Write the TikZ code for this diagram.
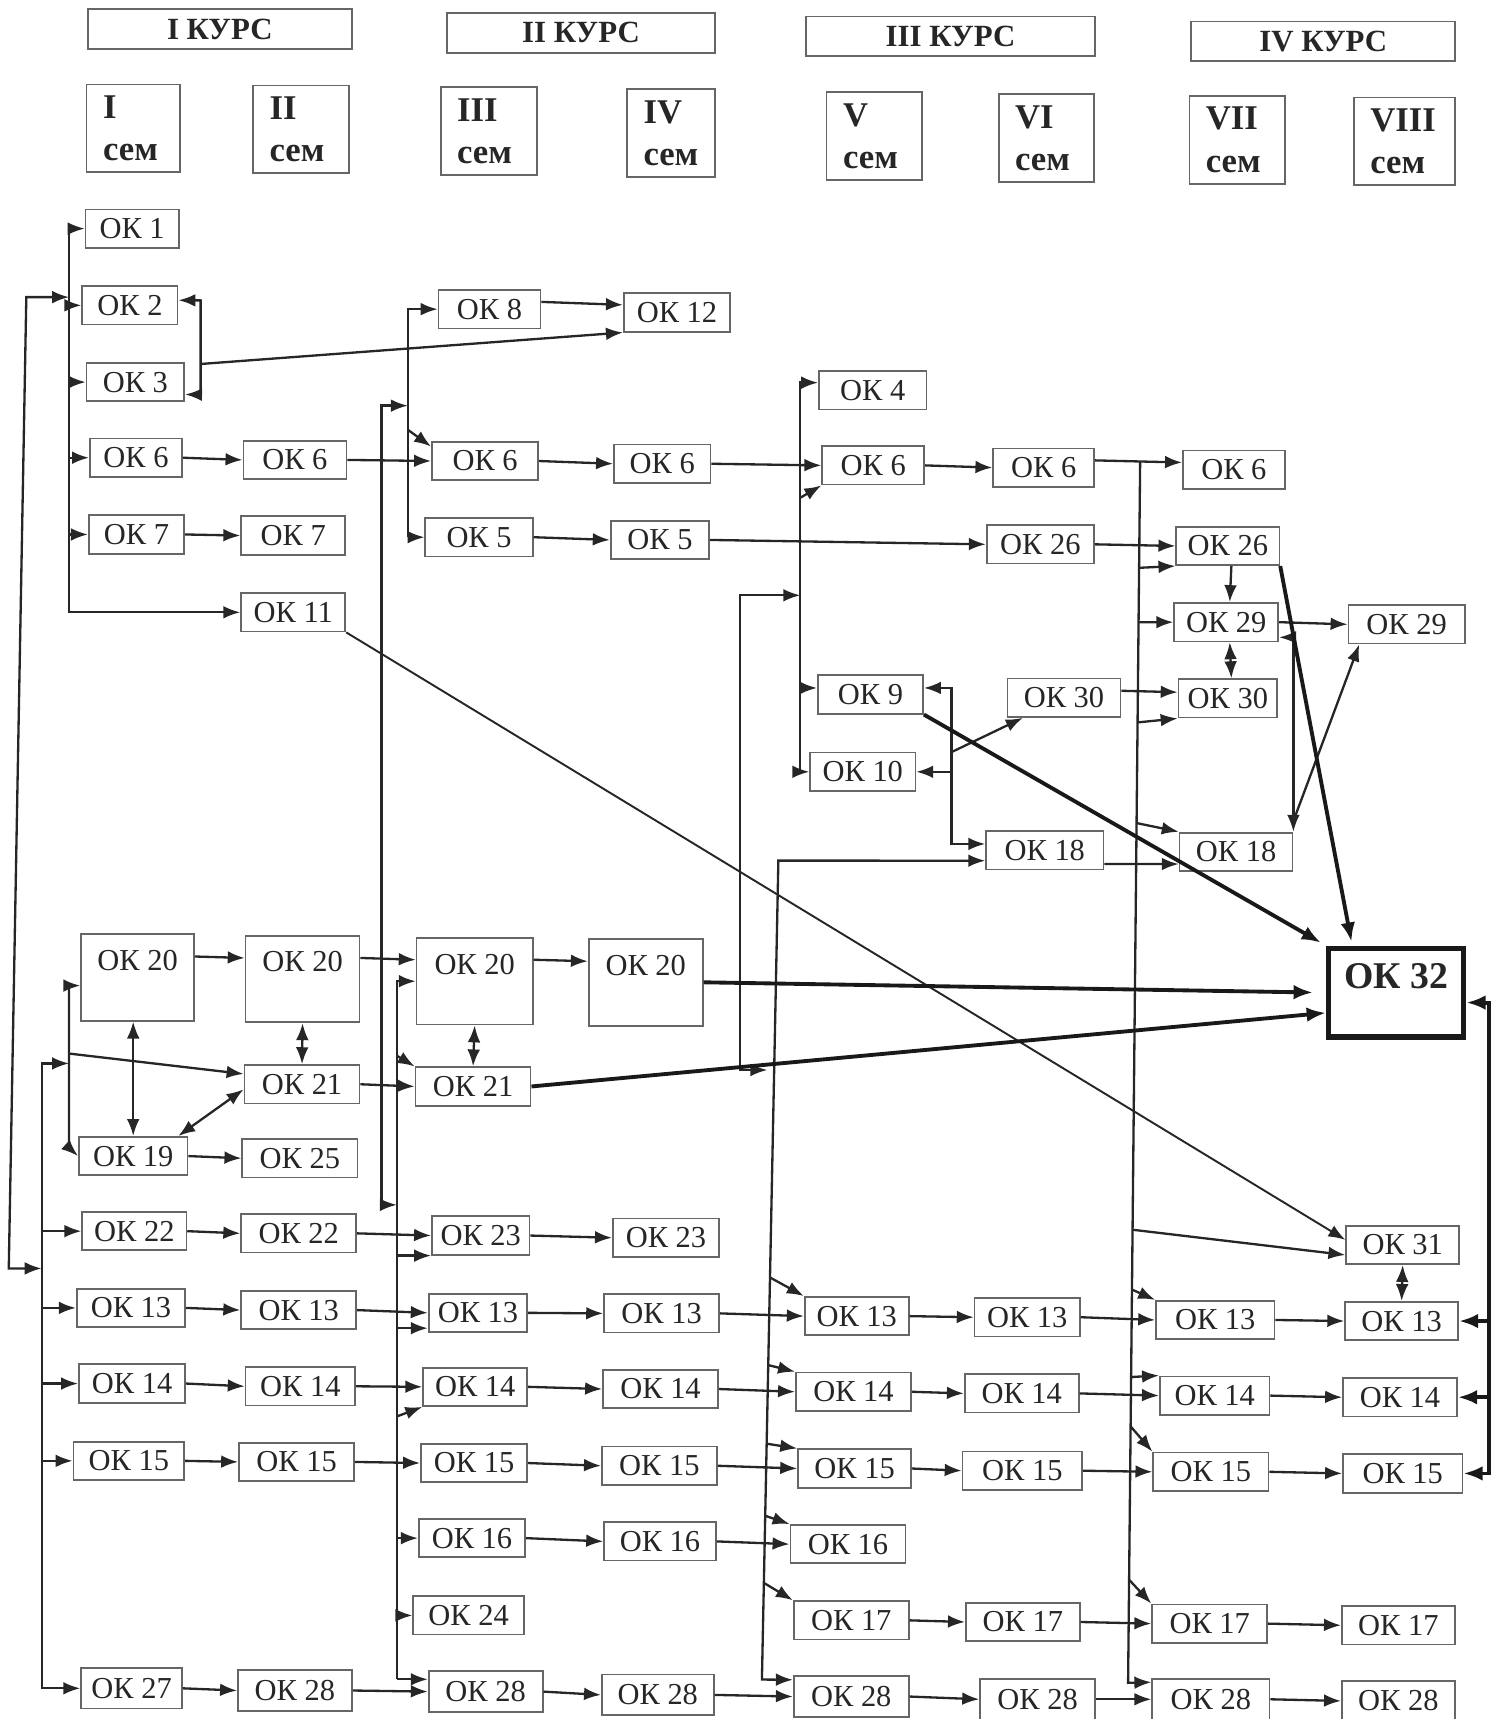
\documentclass[tikz,border=0pt]{standalone}
\usepackage{fontspec}
\setmainfont{Liberation Serif}
\usetikzlibrary{arrows.meta,calc}
\newcommand{\okfont}{\fontsize{7.9}{9}\selectfont}
\newcommand{\kursfont}{\fontsize{8}{9}\selectfont\bfseries}
\newcommand{\semfont}{\fontsize{9}{10.9}\selectfont\bfseries}
\newcommand{\finalfont}{\fontsize{9.8}{11}\selectfont\bfseries}
\begin{document}
\begin{tikzpicture}[x=0.01cm,y=-0.01cm,
  ok/.style={draw=black!60,line width=0.45pt,inner sep=0pt,minimum height=0.35cm,font=\okfont,text=black!85},
  kurs/.style={ok,font=\kursfont,minimum height=0.36cm},
  sem/.style={draw=black!60,line width=0.45pt,inner xsep=0.15cm,inner ysep=0pt,minimum height=0.8cm,align=left,font=\semfont,text=black!85},
  arr/.style={draw=black!85,line width=0.6pt,-{Latex[length=4.4pt,width=3.3pt]}},
  dbl/.style={draw=black!85,line width=0.6pt,{Latex[length=4.4pt,width=3.3pt]}-{Latex[length=4.4pt,width=3.3pt]}},
  heavy/.style={draw=black!90,line width=1pt,-{Latex[length=5pt,width=3.8pt]}},
  heavydbl/.style={draw=black!90,line width=1pt,{Latex[length=5pt,width=3.8pt]}-{Latex[length=5pt,width=3.8pt]}}]
  \useasboundingbox (0,0) rectangle (1372,1568);
  % years and semesters
  \foreach \n/\x/\y/\w/\k in {k1/200.5/26.5/241/I, k2/530/30/244/II, k3/867/33/264/III, k4/1207/37.5/241/IV}
    \node[kurs,minimum width=\w*0.01cm] (\n) at (\x,\y) {\k{} КУРС};
  \foreach \n/\x/\y/\tw/\k in {s1/121.5/117/0.55/I, s2/274.5/118/0.57/II, s3/446/119.5/0.58/III,
      s4/612/121.5/0.50/IV, s5/797.5/124/0.57/V, s6/954.5/126/0.57/VI, s7/1128.5/127.5/0.57/VII, s8/1281/129/0.62/VIII}
    \node[sem,text width=\tw cm] (\n) at (\x,\y) {\k\\сем};
  % upper block
  \foreach \n/\x/\y/\w/\k in {
      ok1/120.5/208.5/85/1, ok2/118.5/278.5/87/2, ok3/123.5/348.5/89/3,
      a6/124/417.5/84/6, a7/124.5/487.5/87/7,
      b6/269/419.5/94/6, b7/267.5/488.5/95/7, b11/267.5/558.5/95/11,
      c8/446.5/282/93/8, c6/442.5/420.5/97/6, c5/437/490/98/5,
      d12/617.5/285/97/12, d6/604/423/88/6, d5/602/492.5/90/5,
      e4/796/356/98/4, e6/796.5/424.5/93/6, e9/794/633.5/96/9, e10/787/704/96/10,
      f6/952/426.5/92/6, f26/949/496.5/98/26, f30/970.5/636.5/103/30, f18/953/775.5/107/18,
      g6/1125.5/428.5/93/6, g26/1120/498/94/26, g29/1118.5/567.5/95/29,
      g30/1120/637/90/30, g18/1127.5/777/103/18,
      h29/1283/569.5/106/29, h31/1279.5/1135.5/103/31}
    \node[ok,minimum width=\w*0.01cm] (\n) at (\x,\y) {ОК \k};
  % lower block
  \foreach \n/\x/\y/\w/\k in {
      a19/121.5/1054.5/99/19, b21/275.5/989/105/21, c21/431.5/991/105/21, b25/273.5/1056.5/105/25,
      a22/122.5/1123/95/22, b22/272.5/1125/105/22, c23/438.5/1127/89/23, d23/607.5/1129/97/23,
      a13/119.5/1193/99/13, b13/272.5/1195/105/13, c13/436/1197.5/90/13, d13/603.5/1198/105/13,
      e13/781.5/1200.5/95/13, f13/937/1201.5/96/13, g13/1108.5/1204/108/13, h13/1278.5/1205/103/13,
      a14/120.5/1262/97/14, b14/274/1264.5/100/14, c14/433.5/1265/95/14, d14/602.5/1267/105/14,
      e14/778.5/1269.5/105/14, f14/932/1271/104/14, g14/1108/1273/100/14, h14/1277/1274.5/104/14,
      a15/117.5/1332.5/101/15, b15/270.5/1333.5/105/15, c15/432.5/1334.5/97/15, d15/601.5/1337/105/15,
      e15/779.5/1339.5/103/15, f15/932.5/1341.5/109/15, g15/1104.5/1342.5/105/15, h15/1279.5/1344/109/15,
      c16/430.5/1403/97/16, d16/602/1406/102/16, e16/773.5/1408.5/105/16, c24/427.5/1473.5/101/24,
      e17/776.5/1478/105/17, f17/933/1479.5/104/17, g17/1103.5/1481/105/17, h17/1275.5/1482.5/103/17}
    \node[ok,minimum width=\w*0.01cm] (\n) at (\x,\y) {ОК \k};
  \foreach \n/\x/\y/\w/\k in {
      a27/120/1540/92/27, b28/269/1542/104/28, c28/443/1543/104/28, d28/600/1546/102/28,
      e28/776.5/1547.5/105/28, f28/946.5/1550/105/28, g28/1104.5/1550/107/28, h28/1275.5/1551.5/103/28}
    \node[ok,minimum width=\w*0.01cm,minimum height=0.37cm] (\n) at (\x,\y) {ОК \k};
  \foreach \n/\x/\y/\w in {a20/125.5/891.5/103, b20/276/893/104, c20/433/895/106, d20/589/896/104}
    \node[ok,minimum width=\w*0.01cm,text height=0.33cm,text depth=0.46cm] (\n) at (\x,\y) {ОК 20};
  \node[ok,font=\finalfont,draw=black!90,line width=1.4pt,minimum width=1.23cm,
    text height=0.365cm,text depth=0.445cm] (ok32) at (1273.5,905.5) {ОК 32};

  % bus lines and bends
  \coordinate (busA) at (63,0);
  \coordinate (busB) at (38,0);
  \coordinate (busC) at (63,0);
  \coordinate (busE) at (372,0);
  \coordinate (busF) at (362,0);
  \coordinate (busG) at (730,0);
  \coordinate (busI) at (868,0);
  \coordinate (busM) at (1358,0);
  \coordinate (outT) at (24,271);
  \coordinate (outB) at (8,1157);
  \coordinate (bTop) at (38,970);
  \coordinate (cTop) at (63,899);
  \coordinate (cMid) at (63,961);
  \coordinate (cBot) at (63,1047);
  \coordinate (dTop) at (348,370);
  \coordinate (dBot) at (348,1099);
  \coordinate (eMid) at (372,392);
  \coordinate (fA) at (362,963);
  \coordinate (fB) at (362,1292);
  \coordinate (brkT) at (183,274);
  \coordinate (brkM) at (183,332);
  \coordinate (brkB) at (183,360);
  \coordinate (gA) at (730,454);
  \coordinate (hT) at (675,543);
  \coordinate (hB) at (675,976);
  \coordinate (hE) at (700,976);
  \coordinate (iA) at (868,686);
  \coordinate (jT) at (710,785);
  \coordinate (jB) at (695,1532);
  \coordinate (kT) at (1040,421);
  \coordinate (kB) at (1029,1535);
  \coordinate (lS) at (1179,751);

  % left side
  \draw[arr] (busA |- ok1.west) |- (b11.west);
  \foreach \n in {ok1,ok2,ok3,a6,a7}
    \draw[arr] (busA |- \n.west) -- (\n.west);
  \draw[dbl] (busB |- outB) -- (outB) -- (outT) -- (busA |- outT);
  \draw[dbl] (a27.west) -| (bTop) -- (busC |- bTop);
  \foreach \n in {a22,a13,a14,a15}
    \draw[arr] (busB |- \n.west) -- (\n.west);
  \draw[arr] (cTop) -- (cTop -| a20.west);
  \draw[arr] (cTop) -- (cBot) -- (a19.west);
  \draw[arr] (cMid) -- (b21.170);
  \draw[dbl] (ok2.6) -- (brkT) -- (brkB) -- (ok3.-14);
  \draw[arr] (brkM) -- (d12.south west);
  \draw[dbl] (a19.north |- a20.south) -- (a19.north);
  \draw[dbl] (b21.185) -- (a19.24);
  \draw[dbl] (b20.south) -- (b21.north);
  \draw[dbl] (c20.south) -- (c21.north);
  \draw[arr] (a20.20) -- (b20.160);
  \draw[arr] (b20.20) -- (c20.160);
  \draw[arr] (c20.20) -- (d20.160);

  % third semester buses
  \draw[dbl] (busE |- dTop) -- (dTop) -- (dBot) -- (busF |- dBot);
  \draw[arr] (busE |- c5.west) |- (c8.west);
  \draw[arr] (busE |- c5.west) -- (c5.west);
  \draw[arr] (eMid) -- (c6.165);
  \draw[arr] (busF |- c28.168) |- (c20.west);
  \draw[arr] (busF |- c28.168) -- (c28.168);
  \draw[arr] (fA) -- (c21.north west);
  \draw[arr] (fB) -- (c14.south west);
  \foreach \n in {c23.south west,c13.197,c16.west,c24.west}
    \draw[arr] (busF |- \n) -- (\n);
  \draw[arr] (c8.8) -- (d12.172);

  % fifth semester buses
  \draw[dbl] (e4.172) -| (busG |- e10.west) -- (e10.west);
  \draw[arr] (gA) -- (e6.south west);
  \draw[arr] (busG |- e9.173) -- (e9.173);
  \draw[dbl] (hE) -- (hB) -- (hT) -- (busG |- hT);
  \draw[dbl] (e9.7) -| (busI |- f18.174) -- (f18.174);
  \draw[arr] (busI |- e10.east) -- (e10.east);
  \draw[arr] (iA) -- (f30.206);
  \draw[dbl] (e28.164) -- (jB) -- (jT) -- (f18.190);
  \foreach \f/\n in {0.509/e13,0.616/e14,0.712/e15,0.80/e16,0.882/e17}
    \draw[arr] ($(jT)!\f!(jB)$) -- (\n.north west);

  % seventh semester bus
  \draw[arr] (f6.8) -- (g6.172);
  \draw[arr] (kT) -- (kB) -- (g28.164);
  \foreach \f/\n in {0.087/g26.south west,0.1315/g29.west,0.2136/g30.south west,0.296/g18.north west,
      0.629/h31.190,0.678/g13.north west,0.7496/g14.north west,0.79/g15.north west,0.9156/g17.north west}
    \draw[arr] ($(kT)!\f!(kB)$) -- (\n);
  \draw[arr] (f30.7) -- (g30.173);
  \draw[arr] (f18.-13) -- (g18.192);
  \draw[arr] (g26.-80) -- (g29.80);
  \draw[dbl] (g29.-80) -- (g30.80);
  \draw[dbl] (g29.-16) -| (g18.north east);
  \draw[arr] (lS) -- (h29.203);
  \draw[dbl] (h31.south) -- (h13.north);
  \draw[arr,line width=0.5pt] (b11.south east) -- (h31.175);

  % rows
  \foreach \p/\q in {a6/b6,b6/c6,c6/d6,d6/e6,e6/f6,a7/b7,c5/d5,d5/f26,f26/g26,
      b21/c21,a19/b25,a22/b22,b22/c23,c23/d23,
      a13/b13,b13/c13,c13/d13,d13/e13,e13/f13,f13/g13,g13/h13,
      a14/b14,b14/c14,c14/d14,d14/e14,e14/f14,f14/g14,g14/h14,
      a15/b15,b15/c15,c15/d15,d15/e15,e15/f15,f15/g15,g15/h15,
      c16/d16,d16/e16,e17/f17,f17/g17,g17/h17,
      a27/b28,b28/c28,c28/d28,d28/e28,e28/f28,f28/g28,g28/h28,g29/h29}
    \draw[arr] (\p.east) -- (\q.west);

  % into OK 32
  \draw[heavy,shorten >=3.4pt] (d20.east) -- (ok32.west);
  \draw[heavy] (c21.east) -- (ok32.196);
  \draw[heavy,shorten >=1.5pt] (e9.south east) -- (ok32.north west);
  \draw[heavy,shorten >=1pt] (g26.south east) -- (ok32.133);
  \draw[heavydbl] (ok32.-8) -| (busM |- h15.east) -- (h15.east);
  \foreach \n in {h13,h14}
    \draw[heavy] (busM |- \n.east) -- (\n.east);
\end{tikzpicture}
\end{document}
